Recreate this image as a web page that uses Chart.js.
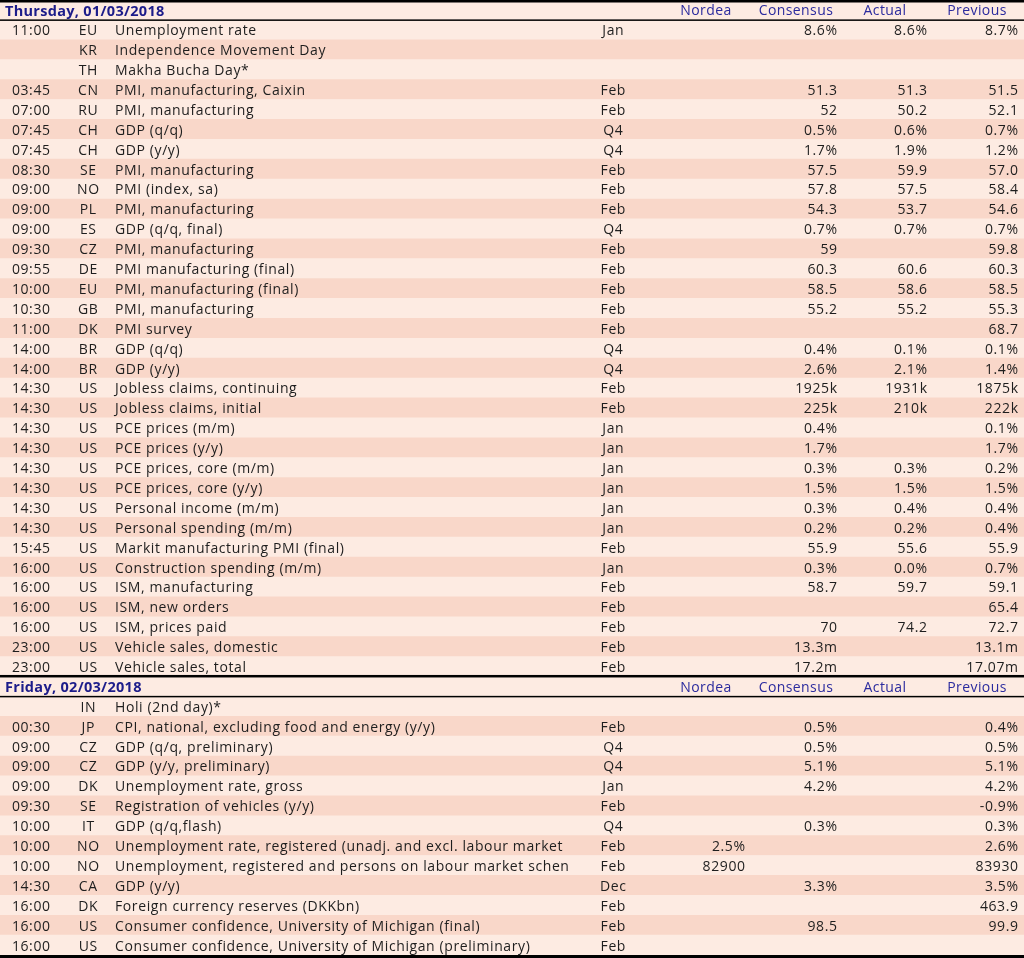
<!DOCTYPE html>
<html>
<head>
<meta charset="utf-8">
<script src="https://cdn.jsdelivr.net/npm/chart.js@4"></script>
<style>
  html, body { margin: 0; padding: 0; background: #ffffff; }
  #wrap { width: 1024px; height: 958px; position: relative; }
</style>
</head>
<body>
<div id="wrap"><canvas id="c" width="1024" height="958"></canvas></div>
<script>
// ---------- DATA ----------
const columnHeaders = ["Nordea", "Consensus", "Actual", "Previous"];

const thuTitle = "Thursday, 01/03/2018";
const thuTimes = ["11:00","","","03:45","07:00","07:45","07:45","08:30","09:00","09:00","09:00","09:30","09:55","10:00","10:30","11:00","14:00","14:00","14:30","14:30","14:30","14:30","14:30","14:30","14:30","14:30","15:45","16:00","16:00","16:00","16:00","23:00","23:00"];
const thuCountries = ["EU","KR","TH","CN","RU","CH","CH","SE","NO","PL","ES","CZ","DE","EU","GB","DK","BR","BR","US","US","US","US","US","US","US","US","US","US","US","US","US","US","US"];
const thuEvents = ["Unemployment rate","Independence Movement Day","Makha Bucha Day*","PMI, manufacturing, Caixin","PMI, manufacturing","GDP (q/q)","GDP (y/y)","PMI, manufacturing","PMI (index, sa)","PMI, manufacturing","GDP (q/q, final)","PMI, manufacturing","PMI manufacturing (final)","PMI, manufacturing (final)","PMI, manufacturing","PMI survey","GDP (q/q)","GDP (y/y)","Jobless claims, continuing","Jobless claims, initial","PCE prices (m/m)","PCE prices (y/y)","PCE prices, core (m/m)","PCE prices, core (y/y)","Personal income (m/m)","Personal spending (m/m)","Markit manufacturing PMI (final)","Construction spending (m/m)","ISM, manufacturing","ISM, new orders","ISM, prices paid","Vehicle sales, domestic","Vehicle sales, total"];
const thuPeriods = ["Jan","","","Feb","Feb","Q4","Q4","Feb","Feb","Feb","Q4","Feb","Feb","Feb","Feb","Feb","Q4","Q4","Feb","Feb","Jan","Jan","Jan","Jan","Jan","Jan","Feb","Jan","Feb","Feb","Feb","Feb","Feb"];
const thuNordea = ["","","","","","","","","","","","","","","","","","","","","","","","","","","","","","","","",""];
const thuConsensus = ["8.6%","","","51.3","52","0.5%","1.7%","57.5","57.8","54.3","0.7%","59","60.3","58.5","55.2","","0.4%","2.6%","1925k","225k","0.4%","1.7%","0.3%","1.5%","0.3%","0.2%","55.9","0.3%","58.7","","70","13.3m","17.2m"];
const thuActual = ["8.6%","","","51.3","50.2","0.6%","1.9%","59.9","57.5","53.7","0.7%","","60.6","58.6","55.2","","0.1%","2.1%","1931k","210k","","","0.3%","1.5%","0.4%","0.2%","55.6","0.0%","59.7","","74.2","",""];
const thuPrevious = ["8.7%","","","51.5","52.1","0.7%","1.2%","57.0","58.4","54.6","0.7%","59.8","60.3","58.5","55.3","68.7","0.1%","1.4%","1875k","222k","0.1%","1.7%","0.2%","1.5%","0.4%","0.4%","55.9","0.7%","59.1","65.4","72.7","13.1m","17.07m"];

const friTitle = "Friday, 02/03/2018";
const friTimes = ["","00:30","09:00","09:00","09:00","09:30","10:00","10:00","10:00","14:30","16:00","16:00","16:00"];
const friCountries = ["IN","JP","CZ","CZ","DK","SE","IT","NO","NO","CA","DK","US","US"];
const friEvents = ["Holi (2nd day)*","CPI, national, excluding food and energy (y/y)","GDP (q/q, preliminary)","GDP (y/y, preliminary)","Unemployment rate, gross","Registration of vehicles (y/y)","GDP (q/q,flash)","Unemployment rate, registered (unadj. and excl. labour market","Unemployment, registered and persons on labour market schen","GDP (y/y)","Foreign currency reserves (DKKbn)","Consumer confidence, University of Michigan (final)","Consumer confidence, University of Michigan (preliminary)"];
const friPeriods = ["","Feb","Q4","Q4","Jan","Feb","Q4","Feb","Feb","Dec","Feb","Feb","Feb"];
const friNordea = ["","","","","","","","2.5%","82900","","","",""];
const friConsensus = ["","0.5%","0.5%","5.1%","4.2%","","0.3%","","","3.3%","","98.5",""];
const friActual = ["","","","","","","","","","","","",""];
const friPrevious = ["","0.4%","0.5%","5.1%","4.2%","-0.9%","0.3%","2.6%","83930","3.5%","463.9","99.9",""];

// ---------- BUILD ROWS (from the arrays above) ----------
const rows = [];
function addDay(title, times, ctry, events, periods, nordea, cons, act, prev) {
  rows.push({ kind: "head", title: title });
  for (let i = 0; i < events.length; i++) {
    rows.push({ kind: "row", stripe: i % 2, cells: [times[i], ctry[i], events[i], periods[i], nordea[i], cons[i], act[i], prev[i]] });
  }
}
addDay(thuTitle, thuTimes, thuCountries, thuEvents, thuPeriods, thuNordea, thuConsensus, thuActual, thuPrevious);
addDay(friTitle, friTimes, friCountries, friEvents, friPeriods, friNordea, friConsensus, friActual, friPrevious);

// ---------- STYLE / LAYOUT ----------
const LIGHT = "#fdebe2";
const DARK = "#f9d7c9";
const FONT = "'Open Sans', 'DejaVu Sans', sans-serif";
// column anchor (in x-scale units 0..1024) and alignment
const colLayout = [
  { x: 50, align: "right" },   // time
  { x: 88, align: "center" },  // country
  { x: 115, align: "left" },   // event
  { x: 613, align: "center" }, // period
  { x: 745, align: "right" },  // Nordea
  { x: 837, align: "right" },  // Consensus
  { x: 927, align: "right" },  // Actual
  { x: 1018, align: "right" }  // Previous
];
const headLayout = [
  { x: 706, align: "center" },
  { x: 796, align: "center" },
  { x: 885, align: "center" },
  { x: 977, align: "center" }
];

const tablePlugin = {
  id: "tableText",
  afterDatasetsDraw(chart) {
    const ctx = chart.ctx;
    const xs = chart.scales.x, ys = chart.scales.y;
    ctx.save();
    ctx.textBaseline = "middle";
    const pitch = ys.getPixelForValue(1) - ys.getPixelForValue(0);
    rows.forEach((r, i) => {
      const yc = ys.getPixelForValue(i);
      const y = yc + 1.5;
      if (r.kind === "head") {
        ctx.fillStyle = "#1c1c8a";
        ctx.font = "bold 14.5px " + FONT;
        ctx.letterSpacing = "0.3px";
        ctx.textAlign = "left";
        ctx.fillText(r.title, xs.getPixelForValue(5), y);
        ctx.font = "14px " + FONT;
        ctx.letterSpacing = "0.4px";
        ctx.fillStyle = "#2b2b9e";
        columnHeaders.forEach((h, k) => {
          ctx.textAlign = headLayout[k].align;
          ctx.fillText(h, xs.getPixelForValue(headLayout[k].x), y);
        });
        // lines above and below header
        const top = yc - pitch / 2, bot = yc + pitch / 2;
        ctx.fillStyle = "#000000";
        if (i === 0) ctx.fillRect(0, 0, chart.width, 2.5);
        else ctx.fillRect(0, top - 1.5, chart.width, 2.5);
        ctx.fillRect(0, bot - 0.5, chart.width, 1.5);
      } else {
        ctx.fillStyle = "#1e1e1e";
        ctx.font = "14px " + FONT;
        ctx.letterSpacing = "0.6px";
        r.cells.forEach((t, k) => {
          if (!t) return;
          const al = colLayout[k].align;
          ctx.textAlign = al;
          const dx = al === "right" ? 0.6 : (al === "center" ? 0.3 : 0);
          ctx.fillText(t, xs.getPixelForValue(colLayout[k].x) + dx, y);
        });
      }
    });
    ctx.fillStyle = "#000000";
    ctx.fillRect(0, chart.height - 3, chart.width, 3);
    ctx.restore();
  }
};

new Chart(document.getElementById("c"), {
  type: "bar",
  data: {
    labels: rows.map((r, i) => "r" + i),
    datasets: [{
      data: rows.map(() => [0, 1024]),
      backgroundColor: rows.map(r => (r.kind === "row" && r.stripe === 1) ? DARK : LIGHT),
      borderWidth: 0,
      barPercentage: 1,
      categoryPercentage: 1
    }]
  },
  options: {
    indexAxis: "y",
    responsive: false,
    animation: false,
    layout: { padding: { top: 0, left: 0, right: 0, bottom: 3 } },
    plugins: { legend: { display: false }, tooltip: { enabled: false } },
    scales: {
      x: { type: "linear", min: 0, max: 1024, display: false },
      y: { type: "category", display: false, offset: true }
    }
  },
  plugins: [tablePlugin]
});
</script>
</body>
</html>
